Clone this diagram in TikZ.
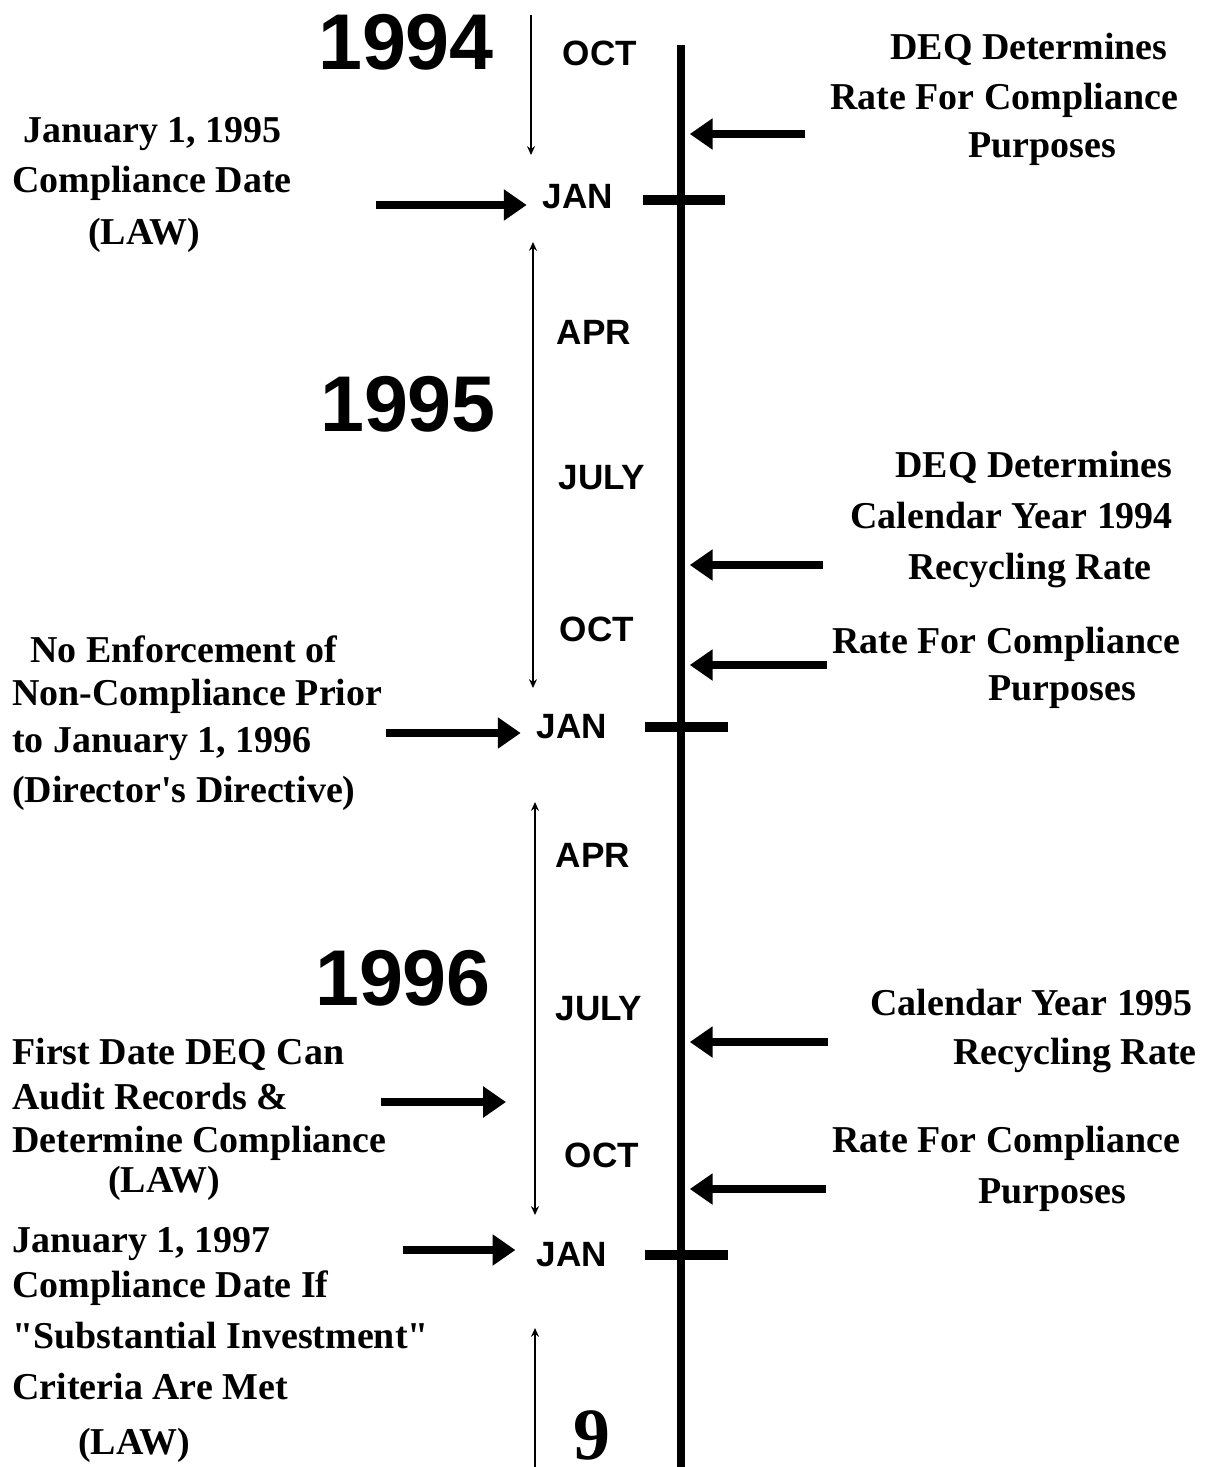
\documentclass[tikz,border=0pt]{standalone}
\usepackage{fontspec}
\setmainfont{Liberation Serif}[Ligatures=TeXOff]
\setsansfont{Liberation Sans}
\usetikzlibrary{arrows.meta}
\newlength{\pxu}\setlength{\pxu}{0.02cm}

\begin{document}
\begin{tikzpicture}[x=0.02cm,y=-0.02cm,>={Stealth[length=5pt,width=4.5pt]},
    yearlabel/.style={font=\sffamily\bfseries\fontsize{45}{54}\selectfont,inner sep=0pt},
    monthlabel/.style={font=\sffamily\bfseries\fontsize{20}{24}\selectfont,inner sep=3pt},
    note/.style={font=\bfseries\fontsize{21.6}{28.35}\selectfont,align=left,anchor=base west,inner sep=0pt},
    axisline/.style={line width=4.5pt},
    jantick/.style={line width=5.5pt},
    bracket/.style={line width=1.4pt},
    bigarrow/.style={line width=5pt,-{Triangle[length=13pt,width=17pt]}}]
  \useasboundingbox (0,0) rectangle (1206,1467);

  % years
  \node[yearlabel] (y94) at (406,42) {1994};
  \node[yearlabel] (y95) at (408,404) {1995};
  \node[yearlabel] (y96) at (403,978) {1996};

  % months
  \node[monthlabel] (oct94) at (600,53) {OCT};
  \node[monthlabel] (jan95) at (578,197) {JAN};
  \node[monthlabel] (apr95) at (594,332) {APR};
  \node[monthlabel] (jul95) at (602,478) {JULY};
  \node[monthlabel] (oct95) at (597,629) {OCT};
  \node[monthlabel] (jan96) at (572,727) {JAN};
  \node[monthlabel] (apr96) at (593,855) {APR};
  \node[monthlabel] (jul96) at (599,1009) {JULY};
  \node[monthlabel] (oct96) at (602,1155) {OCT};
  \node[monthlabel] (jan97) at (572,1255) {JAN};
  \node[font=\bfseries\fontsize{42}{50}\selectfont,inner sep=0pt] (pageno) at (592,1435) {9};

  % year brackets
  \draw[bracket,->] (531,15) -- (531,155);
  \draw[bracket,<->] (533,242) -- (533,688);
  \draw[bracket,<->] (535,802) -- (535,1215);
  \draw[bracket,<-] (535,1328) -- (535,1467);

  % time axis
  \coordinate (axtop) at (681,45);
  \coordinate (axbot) at (681,1467);
  \draw[axisline] (axtop) -- (axbot);
  \draw[jantick] (643,200) -- (725,200);
  \draw[jantick] (645,727) -- (728,727);
  \draw[jantick] (645,1255) -- (728,1255);

  % left notes (anchored at the last line)
  \node[note] (law95) at (12,244) {\hspace*{11\pxu}January 1, 1995\\Compliance Date\\[2\pxu]\hspace*{76\pxu}(LAW)};
  \node[note] (noenf) at (12,802) {\hspace*{18\pxu}No Enforcement of\\[-7\pxu]Non-Compliance Prior\\[-3\pxu]to January 1, 1996\\(Director's Directive)};
  \node[note] (audit) at (12,1192) {First Date DEQ Can\\[-5\pxu]Audit Records \&\\[-7\pxu]Determine Compliance\\[-10\pxu]\hspace*{96\pxu}(LAW)};
  \node[note] (law97) at (12,1454) {January 1, 1997\\[-5\pxu]Compliance Date If\\[1\pxu]"Substantial Investment"\\[1\pxu]Criteria Are Met\\[5\pxu]\hspace*{66\pxu}(LAW)};

  % right notes
  \node[note] (rate94) at (830,157) {\hspace*{60\pxu}DEQ Determines\\Rate For Compliance\\[-2\pxu]\hspace*{138\pxu}Purposes};
  \node[note] (cy94) at (850,579) {\hspace*{45\pxu}DEQ Determines\\[1\pxu]Calendar Year 1994\\[1\pxu]\hspace*{58\pxu}Recycling Rate};
  \node[note] (rate95) at (832,700) {Rate For Compliance\\[-3\pxu]\hspace*{156\pxu}Purposes};
  \node[note] (cy95) at (870,1064) {Calendar Year 1995\\[-1\pxu]\hspace*{83\pxu}Recycling Rate};
  \node[note] (rate96) at (832,1203) {Rate For Compliance\\[1\pxu]\hspace*{146\pxu}Purposes};

  % arrows to the months
  \coordinate (a95) at (376,205);
  \coordinate (a96) at (386,733);
  \coordinate (aud) at (381,1102);
  \coordinate (audend) at (506,1102);
  \coordinate (a97) at (403,1250);
  \draw[bigarrow,shorten >=6pt] (a95) -- (jan95.west |- a95);
  \draw[bigarrow,shorten >=6pt] (a96) -- (jan96.west |- a96);
  \draw[bigarrow] (aud) -- (audend);
  \draw[bigarrow,shorten >=9pt] (a97) -- (jan97.west |- a97);

  % arrows to the axis
  \coordinate (r1) at (805,134);
  \coordinate (r2) at (823,565);
  \coordinate (r3) at (827,665);
  \coordinate (r4) at (828,1042);
  \coordinate (r5) at (826,1189);
  \draw[bigarrow,shorten >=5pt] (r1) -- (axtop |- r1);
  \draw[bigarrow,shorten >=5pt] (r2) -- (axtop |- r2);
  \draw[bigarrow,shorten >=5pt] (r3) -- (axtop |- r3);
  \draw[bigarrow,shorten >=5pt] (r4) -- (axtop |- r4);
  \draw[bigarrow,shorten >=5pt] (r5) -- (axtop |- r5);
\end{tikzpicture}
\end{document}
